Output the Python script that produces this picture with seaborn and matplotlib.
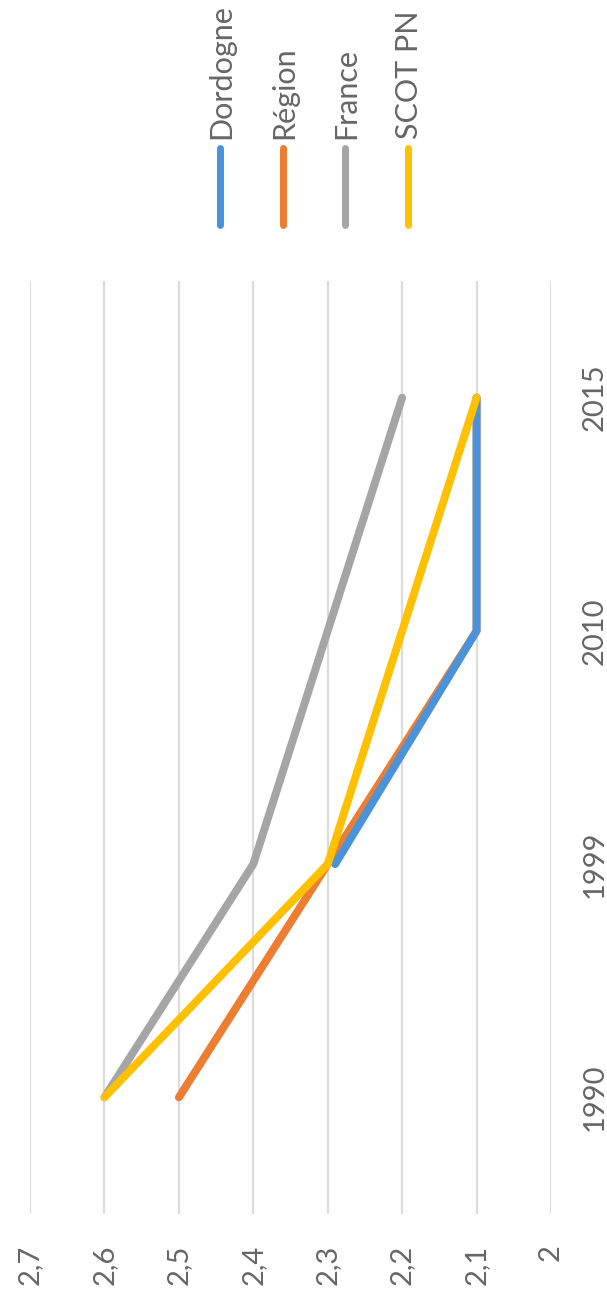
import numpy as np
import pandas as pd
import matplotlib
matplotlib.use("Agg")
import matplotlib.pyplot as plt
from matplotlib.lines import Line2D
import seaborn as sns

# Household size by census year
years = ["1990", "1999", "2010", "2015"]
series_names = ["Dordogne", "Région", "France", "SCOT PN"]
dordogne = [np.nan, 2.29, 2.1, 2.1]
region = [2.5, 2.3, 2.1, 2.1]
france = [2.6, 2.4, 2.3, 2.2]
scot_pn = [2.6, 2.3, 2.2, 2.1]
value_ticks = [2.7, 2.6, 2.5, 2.4, 2.3, 2.2, 2.1, 2.0]
value_labels = ["2,7", "2,6", "2,5", "2,4", "2,3", "2,2", "2,1", "2"]

colors = {"Dordogne": "#4A93DB", "Région": "#ED7D31",
          "France": "#A5A5A5", "SCOT PN": "#FFC000"}
draw_order = {"Région": 1, "Dordogne": 2, "France": 3, "SCOT PN": 4}

frames = []
for name, vals in zip(series_names, [dordogne, region, france, scot_pn]):
    frames.append(pd.DataFrame({"series": name, "year": years,
                                "pos": np.arange(len(years)), "value": vals}))
df = pd.concat(frames, ignore_index=True)

sns.set_theme(style="white")
plt.rcParams["font.family"] = ["Lato", "DejaVu Sans"]
text_color = "#666666"
fs = 21

W, H = 607, 1302
fig = plt.figure(figsize=(W / 100, H / 100), dpi=100)
left, right, top, bottom = 30, 551, 281, 1214
ax = fig.add_axes([left / W, 1 - bottom / H, (right - left) / W, (bottom - top) / H])

for name in series_names:
    sub = df[df["series"] == name].dropna()
    sns.lineplot(data=sub, x="value", y="pos", orient="y", sort=False, ax=ax,
                 color=colors[name], linewidth=5.7, legend=False,
                 zorder=draw_order[name] + 2,
                 solid_capstyle="round", solid_joinstyle="round")

ax.set_xlim(2.7, 2.0)
ax.set_ylim(-0.5, len(years) - 0.5)
ax.set_xticks(value_ticks)
ax.set_xticklabels(value_labels, rotation=90, fontsize=fs, color=text_color)
ax.set_yticks(np.arange(len(years)))
ax.set_yticklabels(years, rotation=90, fontsize=fs, color=text_color, va="center")
ax.yaxis.tick_right()
ax.tick_params(axis="x", length=0, pad=22)
ax.tick_params(axis="y", length=0, pad=22)
ax.set_xlabel("")
ax.set_ylabel("")
ax.grid(axis="x", color="#DCDCDC", linewidth=1.6)
ax.grid(axis="y", visible=False)
for s in ax.spines.values():
    s.set_visible(False)

# Legend: vertical keys with rotated names above the plot
legend_x = [220, 283, 345, 408]
for name, lx in zip(series_names, legend_x):
    fig.add_artist(Line2D([lx / W, lx / W], [1 - 148 / H, 1 - 225 / H],
                          transform=fig.transFigure, color=colors[name],
                          linewidth=5, solid_capstyle="round"))
    fig.text(lx / W + 1 / W, 1 - 139 / H, name, rotation=90, ha="center", va="bottom",
             fontsize=22, color=text_color)

fig.savefig("out.png", dpi=100, facecolor="white")
